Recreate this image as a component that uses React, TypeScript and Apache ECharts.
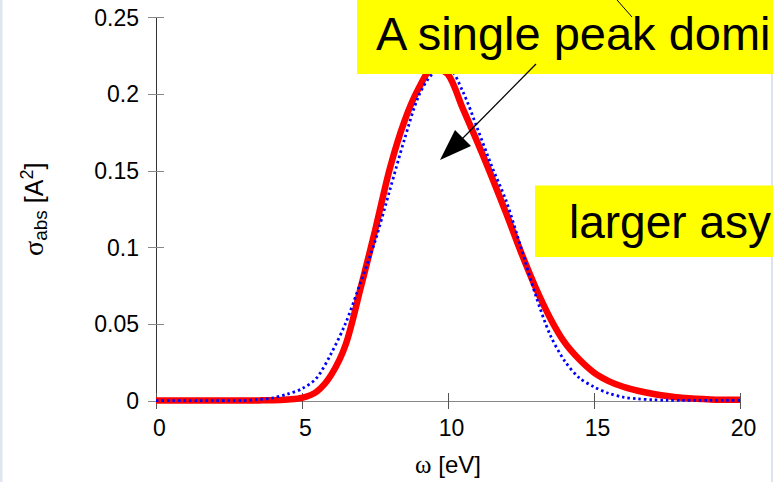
import React, { useEffect, useRef } from "react";
import * as echarts from "echarts";

// photon energy grid [eV]
const omega = [
  0, 0.5, 1, 1.5, 2, 2.5, 3, 3.5, 4, 4.5, 5, 5.5, 6, 6.5, 7, 7.5, 8, 8.5, 9, 9.5,
  10, 10.5, 11, 11.5, 12, 12.5, 13, 13.5, 14, 14.5, 15, 15.5, 16, 16.5, 17, 17.5,
  18, 18.5, 19, 19.5, 20,
];

// computed absorption cross-section [A^2] (thick red)
const sigmaAbs = [
  0.0003, 0.0003, 0.0003, 0.0003, 0.0003, 0.0003, 0.0003, 0.0004, 0.0005, 0.001,
  0.002, 0.006, 0.017, 0.037, 0.073, 0.111, 0.151, 0.182, 0.204, 0.217,
  0.213, 0.191, 0.169, 0.146, 0.122, 0.097, 0.074, 0.054, 0.038, 0.027,
  0.0185, 0.013, 0.0093, 0.0067, 0.0047, 0.0032, 0.0021, 0.0014, 0.001, 0.0008, 0.0008,
];

// symmetric reference profile [A^2] (blue dotted)
const sigmaRef = [
  0.0002, 0.0002, 0.0002, 0.0002, 0.0002, 0.0002, 0.0003, 0.001, 0.002, 0.0045,
  0.008, 0.015, 0.031, 0.051, 0.077, 0.104, 0.137, 0.17, 0.199, 0.214,
  0.217, 0.202, 0.178, 0.153, 0.13, 0.1, 0.069, 0.043, 0.026, 0.015,
  0.0092, 0.005, 0.0025, 0.0014, 0.0008, 0.0005, 0.0004, 0.0004, 0.0004, 0.0004, 0.0004,
];

const xRange = [0, 20, 5];
const yRange = [0, 0.25, 0.05];

const SANS = "'Liberation Sans', Arial, Helvetica, sans-serif";
const SERIF = "'Liberation Serif', 'Times New Roman', serif";
const FRAME = "#888888";

export default function App() {
  const ref = useRef<HTMLDivElement>(null);

  useEffect(() => {
    if (!ref.current) return;
    const chart = echarts.init(ref.current, undefined, { renderer: "svg" });

    const xBase = {
      type: "value" as const,
      min: xRange[0],
      max: xRange[1],
      interval: xRange[2],
      splitLine: { show: false },
      axisLine: { show: true, lineStyle: { color: FRAME, width: 1 } },
      axisTick: { show: true, inside: true, length: 8, lineStyle: { color: "#555", width: 1 } },
    };
    const yBase = {
      type: "value" as const,
      min: yRange[0],
      max: yRange[1],
      interval: yRange[2],
      splitLine: { show: false },
      axisTick: { show: true, inside: true, length: 8, lineStyle: { color: FRAME, width: 1 } },
    };

    chart.setOption({
      animation: false,
      backgroundColor: "#ffffff",
      grid: { left: 156, right: 33, top: 17.5, bottom: 79, containLabel: false },
      xAxis: [
        {
          ...xBase,
          position: "bottom",
          axisLabel: {
            color: "#000",
            fontSize: 23,
            fontFamily: SANS,
            margin: 15,
            padding: [0, 0, 0, 7],
          },
          name: "{w|ω} [eV]",
          nameLocation: "middle",
          nameGap: 51,
          nameTextStyle: {
            color: "#000",
            fontSize: 24,
            fontFamily: SANS,
            rich: { w: { fontSize: 25, fontFamily: SERIF, color: "#000" } },
          },
        },
        {
          ...xBase,
          position: "top",
          axisLabel: { show: false },
        },
      ],
      yAxis: [
        {
          ...yBase,
          position: "left",
          axisLine: { show: true, lineStyle: { color: FRAME, width: 1 } },
          axisLabel: { color: "#000", fontSize: 23, fontFamily: SANS, margin: 17 },
          name: "{g|σ}{sub|abs} [A{sup|2}]",
          nameLocation: "middle",
          nameRotate: 90,
          nameGap: 106,
          nameTextStyle: {
            color: "#000",
            fontSize: 25,
            fontFamily: SANS,
            rich: {
              g: { fontSize: 28, fontFamily: SERIF, color: "#000" },
              sub: { fontSize: 19, fontFamily: SANS, color: "#000", padding: [14, 0, 0, 0] },
              sup: { fontSize: 18, fontFamily: SANS, color: "#000", padding: [0, 0, 14, 0] },
            },
          },
        },
        {
          ...yBase,
          position: "right",
          axisLine: { show: true, lineStyle: { color: "#333", width: 1 } },
          axisLabel: { show: false },
        },
      ],
      series: [
        {
          type: "line",
          xAxisIndex: 0,
          yAxisIndex: 0,
          data: omega.map((w, i) => [w, sigmaAbs[i]]),
          showSymbol: false,
          smooth: 0.3,
          lineStyle: { color: "#ff0000", width: 6.5 },
          z: 2,
        },
        {
          type: "line",
          xAxisIndex: 0,
          yAxisIndex: 0,
          data: omega.map((w, i) => [w, sigmaRef[i]]),
          showSymbol: false,
          smooth: 0.3,
          lineStyle: { color: "#0000ff", width: 2.8, type: [2.5, 3] },
          z: 3,
        },
      ],
      graphic: [
        // slide edges
        { type: "rect", z: 1, shape: { x: 0, y: 0, width: 2.5, height: 482 }, style: { fill: "#dde6f1" } },
        { type: "rect", z: 1, shape: { x: 771, y: 0, width: 2, height: 482 }, style: { fill: "#dde4ee" } },
        // callout boxes
        { type: "rect", z: 100, shape: { x: 357, y: 0, width: 416, height: 74 }, style: { fill: "#ffff00" } },
        {
          type: "text",
          z: 101,
          x: 376,
          y: 33,
          style: {
            text: "A single peak domi",
            fill: "#000",
            font: `47px ${SANS}`,
            align: "left",
            verticalAlign: "middle",
          },
        },
        { type: "rect", z: 100, shape: { x: 535, y: 185.5, width: 238, height: 71.5 }, style: { fill: "#ffff00" } },
        {
          type: "text",
          z: 101,
          x: 569,
          y: 222,
          style: {
            text: "larger asy",
            fill: "#000",
            font: `46px ${SANS}`,
            align: "left",
            verticalAlign: "middle",
          },
        },
        // pointer lines
        { type: "line", z: 102, shape: { x1: 610, y1: -8, x2: 632, y2: 17 }, style: { stroke: "#000", lineWidth: 1 } },
        { type: "line", z: 102, shape: { x1: 536, y1: 64, x2: 462, y2: 139 }, style: { stroke: "#000", lineWidth: 1.2 } },
        {
          type: "polygon",
          z: 102,
          shape: { points: [[440, 160], [455, 130], [471, 146]] },
          style: { fill: "#000" },
        },
      ],
    });

    return () => chart.dispose();
  }, []);

  return (
    <div
      ref={ref}
      style={{ position: "fixed", left: 0, top: 0, width: 773, height: 482, background: "#fff" }}
    />
  );
}
